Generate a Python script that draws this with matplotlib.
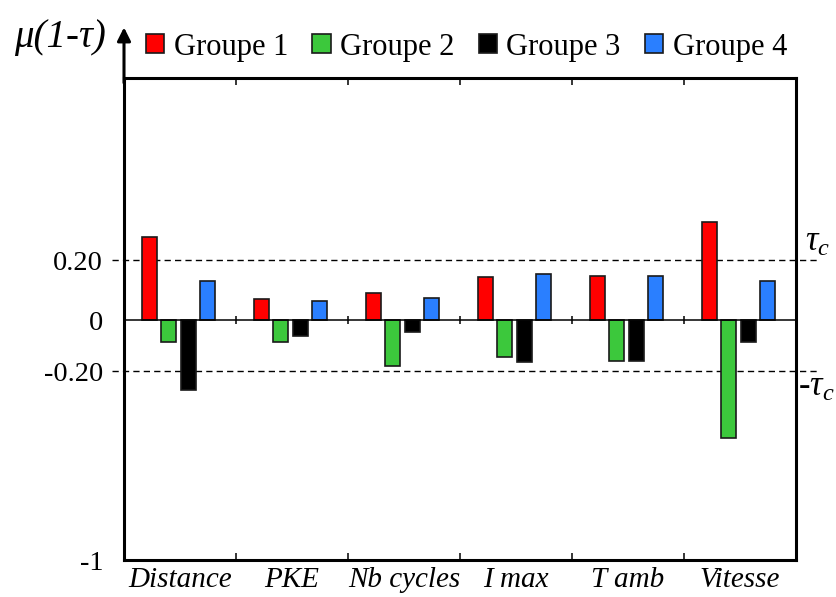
import numpy as np
import matplotlib
matplotlib.use("Agg")
import matplotlib.pyplot as plt

plt.rcParams['font.family'] = ['Liberation Serif', 'DejaVu Serif']
plt.rcParams['mathtext.fontset'] = 'custom'
plt.rcParams['mathtext.rm'] = 'Liberation Serif'
plt.rcParams['mathtext.it'] = 'Liberation Serif:italic'

categories = ['Distance', 'PKE', 'Nb cycles', 'I max', 'T amb', 'Vitesse']
series_names = ['Groupe 1', 'Groupe 2', 'Groupe 3', 'Groupe 4']
groupe1 = [0.277, 0.070, 0.090, 0.143, 0.147, 0.327]
groupe2 = [-0.086, -0.086, -0.180, -0.145, -0.160, -0.484]
groupe3 = [-0.280, -0.063, -0.047, -0.165, -0.160, -0.086]
groupe4 = [0.130, 0.063, 0.073, 0.153, 0.147, 0.130]
yticks = [-1, -0.2, 0, 0.2]
yticklabels = ['-1', '-0.20', '0', '0.20']
tau_c = 0.2

colors = ['#ff0000', '#3cc83c', '#000000', '#2a7fff']
series = [groupe1, groupe2, groupe3, groupe4]

# piecewise-linear vertical scale as in the original figure
_xp = np.array([-1.0, -0.2, 0.0, 0.2, 1.0])
_fp = np.array([-240.0, -51.0, 0.0, 60.0, 300.0])
def _fwd(v):
    v = np.asarray(v, dtype=float)
    out = np.interp(v, _xp, _fp)
    out = np.where(v < _xp[0], _fp[0] + (v - _xp[0]) * 236.0, out)
    out = np.where(v > _xp[-1], _fp[-1] + (v - _xp[-1]) * 300.0, out)
    return out
def _inv(p):
    p = np.asarray(p, dtype=float)
    out = np.interp(p, _fp, _xp)
    out = np.where(p < _fp[0], _xp[0] + (p - _fp[0]) / 236.0, out)
    out = np.where(p > _fp[-1], _xp[-1] + (p - _fp[-1]) / 300.0, out)
    return out

fig = plt.figure(figsize=(8.36, 5.97), dpi=100)
ax = fig.add_axes([124/836, 37/597, 672/836, 482/597])
ax.set_yscale('function', functions=(_fwd, _inv))

x = np.arange(len(categories))
width = 0.134
step = 0.172
for i, (vals, c, name) in enumerate(zip(series, colors, series_names)):
    ax.bar(x + (i - 1.5) * step - 0.013, vals, width, color=c,
           edgecolor='#1a1a1a', linewidth=1.2, label=name, zorder=3)

ax.set_xlim(-0.5, len(categories) - 0.5)
ax.set_ylim(-1, 0.807)

# zero line
ax.axhline(0, color='black', lw=1.1, zorder=4)
bounds = np.arange(0.5, len(categories) - 0.5, 1.0)
ax.plot(bounds, np.zeros_like(bounds), ls='none', marker='|', ms=6,
        mew=1.1, color='black', zorder=4)

# threshold lines
trans = ax.get_yaxis_transform()
for yv in (tau_c, -tau_c):
    ax.plot([-0.018, 1.031], [yv, yv], transform=trans, color='black',
            lw=1.0, ls=(0, (4.5, 3)), clip_on=False, zorder=2)
ax.text(1.014, 0.26, r'$\tau_c$', transform=trans, fontsize=25,
        ha='left', va='center')
ax.text(1.003, -0.27, r'-$\tau_c$', transform=trans, fontsize=25,
        ha='left', va='center')

# spines and ticks
for s in ax.spines.values():
    s.set_linewidth(2.2)
ax.set_xticks(x)
ax.set_xticklabels(categories, fontstyle='italic', fontsize=21)
ax.tick_params(axis='x', which='major', length=0, pad=5)
ax.set_xticks(bounds, minor=True)
ax.tick_params(axis='x', which='minor', direction='in', length=5,
               width=1.1, top=True, bottom=True)
ax.set_yticks(yticks)
ax.set_yticklabels(yticklabels, fontsize=20.5)
ax.yaxis.set_minor_locator(matplotlib.ticker.NullLocator())
ax.tick_params(axis='y', length=0, pad=15)

# y axis arrow
ax.annotate('', xy=(0, 1.105), xytext=(0, 0.99), xycoords='axes fraction',
            arrowprops=dict(arrowstyle='-|>', lw=2.2, color='black',
                            mutation_scale=20, shrinkA=0, shrinkB=0),
            annotation_clip=False)
fig.text(14/836, 1 - 38/597, r'μ(1-τ)', fontsize=28, fontstyle='italic',
         ha='left', va='center')

leg = fig.legend(loc='center', bbox_to_anchor=(0.558, 1 - 47/597), ncol=4,
                 frameon=False, fontsize=22, handlelength=0.6,
                 handleheight=0.6, handletextpad=0.3, columnspacing=0.8,
                 borderaxespad=0, borderpad=0)

fig.savefig('out.png', dpi=100)
